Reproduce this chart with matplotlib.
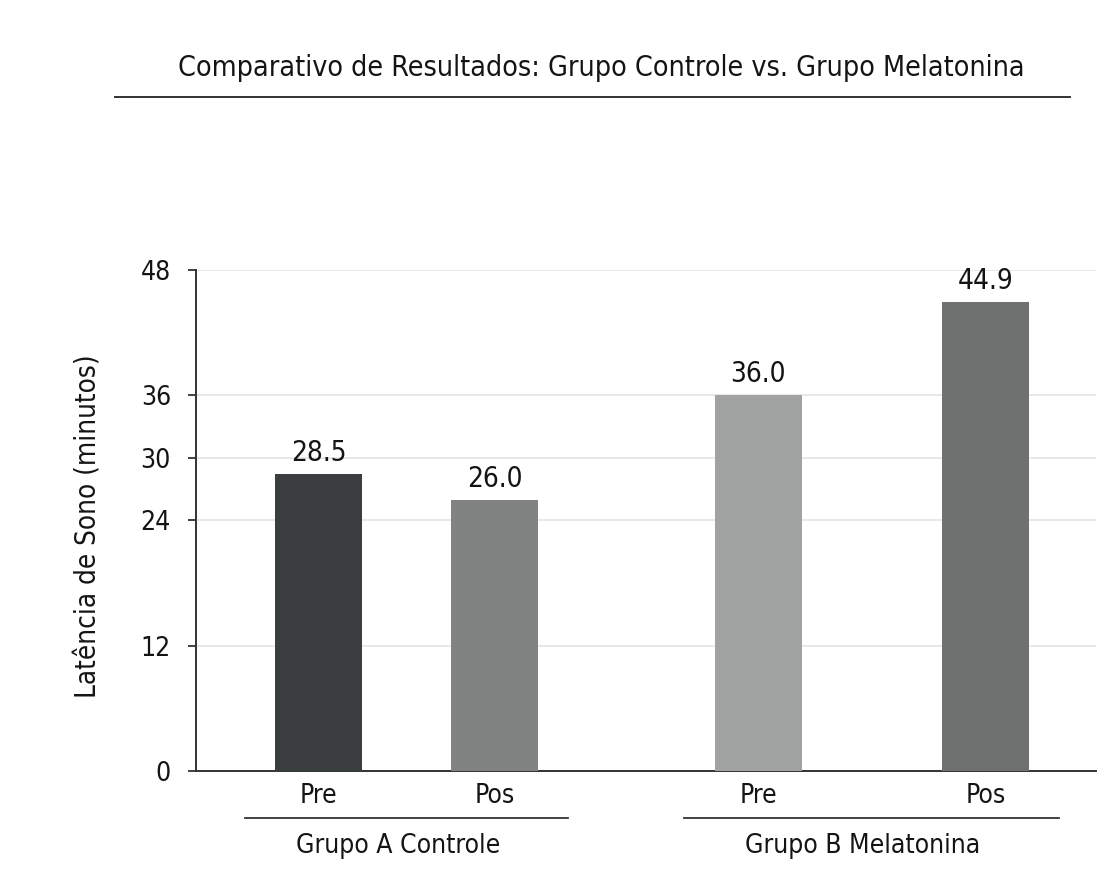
import matplotlib
matplotlib.use("Agg")
import matplotlib.pyplot as plt
from matplotlib.lines import Line2D

plt.rcParams["font.family"] = ["DejaVu Sans"]
plt.rcParams["font.stretch"] = "condensed"

# data
categories = ["Pre", "Pos", "Pre", "Pos"]
values = [28.5, 26.0, 36.0, 44.9]
positions = [0.0, 1.0, 2.5, 3.79]
bar_colors = ["#3b3e3e", "#818282", "#a1a3a3", "#6f7170"]
groups = ["Grupo A Controle", "Grupo B Melatonina"]
group_members = [(0, 1), (2, 3)]
yticks = [0, 12, 24, 30, 36, 48]

TEXT = "#141414"

fig = plt.figure(figsize=(10.98, 8.69), dpi=100)
ax = fig.add_axes([0.1785, 0.1128, 0.8195, 0.5765])

ax.bar(positions, values, width=0.494, color=bar_colors, zorder=3)
for x, v in zip(positions, values):
    ax.annotate(f"{v:.1f}", (x, v), xytext=(0, 5), textcoords="offset points",
                ha="center", va="bottom", fontsize=20, color=TEXT)

ax.set_xlim(-0.696, 4.418)
ax.set_ylim(0, 48)
ax.set_yticks(yticks)
ax.set_yticklabels([str(t) for t in yticks], fontsize=19, color=TEXT)
ax.set_xticks(positions)
ax.set_xticklabels(categories, fontsize=19, color=TEXT)
ax.tick_params(axis="x", length=0, pad=9)
ax.tick_params(axis="y", length=6, width=1.3, color="#333333", pad=12)
ax.grid(axis="y", color="#e4e4e4", lw=1.2, zorder=0)

for s in ("top", "right"):
    ax.spines[s].set_visible(False)
for s in ("left", "bottom"):
    ax.spines[s].set_color("#333333")
    ax.spines[s].set_linewidth(1.4)

fig.text(0.081, 0.395, "Latência de Sono (minutos)", rotation=90,
         ha="center", va="center", fontsize=20, color=TEXT)

# group brackets under the category labels
tr = ax.get_xaxis_transform()
for name, (i, j) in zip(groups, group_members):
    x0, x1 = positions[i] - 0.42, positions[j] + 0.42
    ax.plot([x0, x1], [-0.094, -0.094], transform=tr, color="#333333",
            lw=1.3, clip_on=False)
    ax.text((positions[i] + positions[j]) / 2 - 0.05, -0.164, name, transform=tr,
            ha="center", va="baseline", fontsize=19, color=TEXT)

fig.text(0.548, 0.922, "Comparativo de Resultados: Grupo Controle vs. Grupo Melatonina",
         ha="center", va="center", fontsize=20.5, color=TEXT)
fig.add_artist(Line2D([0.1047, 0.9745], [0.8884, 0.8884], color="#333333", lw=1.4))

fig.savefig("out.png", dpi=100)
